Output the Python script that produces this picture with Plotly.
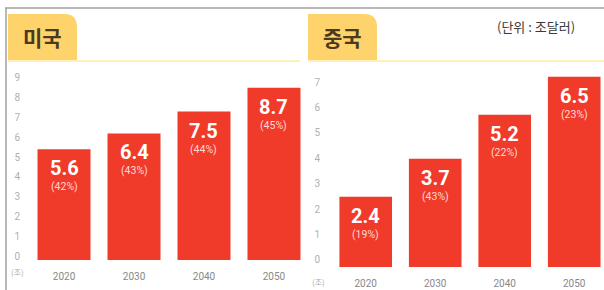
import plotly.graph_objects as go

# ---- data ----
years = ["2020", "2030", "2040", "2050"]
us_values = [5.6, 6.4, 7.5, 8.7]
us_share = ["42%", "43%", "44%", "45%"]
cn_values = [2.4, 3.7, 5.2, 6.5]
cn_share = ["19%", "43%", "22%", "23%"]
us_ticks = list(range(0, 10))
cn_ticks = list(range(0, 8))
us_title = "미국"
cn_title = "중국"
unit_text = "(단위 : 조달러)"
axis_unit = "(조)"

W, H = 604, 290
def X(px):
    return px / W
def Y(py):
    return 1 - py / H

BAR = "#F03A2A"
TAB = "#FFD36B"
TAB_TXT = "#4B3A1E"

fig = go.Figure()
fig.add_trace(go.Bar(x=years, y=us_values, marker_color=BAR, marker_line_width=0,
                     width=0.757, xaxis="x", yaxis="y", hoverinfo="skip"))
fig.add_trace(go.Bar(x=years, y=cn_values, marker_color=BAR, marker_line_width=0,
                     width=0.757, xaxis="x2", yaxis="y2", hoverinfo="skip"))
# display-only axis for the China tick scale
fig.add_trace(go.Scatter(x=[years[0]], y=[0], mode="markers", marker=dict(opacity=0),
                         xaxis="x2", yaxis="y4", hoverinfo="skip"))

annotations = []
for xa, ya, vals, shares in (("x", "y", us_values, us_share), ("x2", "y2", cn_values, cn_share)):
    for i, (v, s) in enumerate(zip(vals, shares)):
        annotations.append(dict(x=i, y=v, xref=xa, yref=ya, text=f"<b>{v}</b>",
                                showarrow=False, yanchor="top", yshift=-5,
                                font=dict(family="Roboto, sans-serif",
                                          size=20, color="white")))
        annotations.append(dict(x=i, y=v, xref=xa, yref=ya, text=f"({s})",
                                showarrow=False, yanchor="top", yshift=-29,
                                font=dict(family="Roboto, sans-serif",
                                          size=10.5, color="#FFD9D2")))

for txt, cx in ((us_title, 42), (cn_title, 342)):
    annotations.append(dict(x=X(cx), y=Y(37), xref="paper", yref="paper", text=f"<b>{txt}</b>",
                            showarrow=False, xanchor="center", yanchor="middle",
                            font=dict(family="Noto Sans CJK KR", size=21, color=TAB_TXT)))
annotations.append(dict(x=X(536), y=Y(27), xref="paper", yref="paper", text=unit_text,
                        showarrow=False, xanchor="center", yanchor="middle",
                        font=dict(family="Noto Sans CJK KR", size=13, color="#3A3A3A")))
for cx, cy in ((17, 271), (318, 281)):
    annotations.append(dict(x=X(cx), y=Y(cy), xref="paper", yref="paper", text=axis_unit,
                            showarrow=False, xanchor="center", yanchor="middle",
                            font=dict(family="Noto Sans CJK KR", size=8, color="#AAAAAA")))

def tab_path(x0, x1, y0, y1, r):
    return (f"M {X(x0)} {Y(y1)} L {X(x0)} {Y(y0)} L {X(x1 - r)} {Y(y0)} "
            f"Q {X(x1)} {Y(y0)} {X(x1)} {Y(y0 + r)} L {X(x1)} {Y(y1)} Z")

shapes = [
    # outer frame
    dict(type="line", xref="paper", yref="paper", x0=X(5), x1=X(604), y0=Y(8), y1=Y(8),
         line=dict(color="#A0A0A0", width=1.5)),
    dict(type="line", xref="paper", yref="paper", x0=X(6), x1=X(6), y0=Y(8), y1=Y(290),
         line=dict(color="#A0A0A0", width=1.5)),
    # tabs
    dict(type="path", xref="paper", yref="paper", path=tab_path(8, 77, 14, 61, 13),
         fillcolor=TAB, line=dict(width=0)),
    dict(type="path", xref="paper", yref="paper", path=tab_path(308, 377, 14, 61, 13),
         fillcolor=TAB, line=dict(width=0)),
    # thin lines under tabs
    dict(type="line", xref="paper", yref="paper", x0=X(8), x1=X(300), y0=Y(61), y1=Y(61),
         line=dict(color="#FFF0B8", width=2)),
    dict(type="line", xref="paper", yref="paper", x0=X(308), x1=X(604), y0=Y(61), y1=Y(61),
         line=dict(color="#FFF0B8", width=2)),
]

tickfont_y = dict(family="Roboto, sans-serif", size=10, color="#B0B0B0")
tickfont_x = dict(family="Roboto, sans-serif", size=10, color="#888888")

fig.update_layout(
    width=W, height=H,
    margin=dict(l=0, r=0, t=0, b=0, autoexpand=False),
    paper_bgcolor="white", plot_bgcolor="rgba(0,0,0,0)",
    showlegend=False,
    xaxis=dict(domain=[X(30), X(301)], range=[-0.486, 3.386], type="category",
               showgrid=False, showline=False, zeroline=False, ticks="",
               tickfont=tickfont_x, ticklabelstandoff=9, anchor="y", fixedrange=True),
    yaxis=dict(domain=[Y(260), Y(76)], range=[0, 9.3], tickvals=us_ticks,
               showgrid=False, showline=False, zeroline=False, ticks="",
               tickfont=tickfont_y, ticklabelstandoff=9, ticklabelshift=-4,
               anchor="x", fixedrange=True),
    xaxis2=dict(domain=[X(330), X(602)], range=[-0.514, 3.4], type="category",
                showgrid=False, showline=False, zeroline=False, ticks="",
                tickfont=tickfont_x, ticklabelstandoff=9, anchor="y2", fixedrange=True),
    yaxis2=dict(domain=[Y(267), Y(62)], range=[0, 7.0], showticklabels=False,
                showgrid=False, showline=False, zeroline=False, ticks="",
                anchor="x2", fixedrange=True),
    yaxis4=dict(overlaying="y2", anchor="x2", side="left", range=[-0.276, 7.795],
                tickvals=cn_ticks, showgrid=False, showline=False, zeroline=False,
                ticks="", tickfont=tickfont_y, ticklabelstandoff=9, fixedrange=True),
    annotations=annotations,
    shapes=shapes,
)

fig.write_html("out.html", config={"displayModeBar": False},
               post_script="document.body.style.margin='0';")
